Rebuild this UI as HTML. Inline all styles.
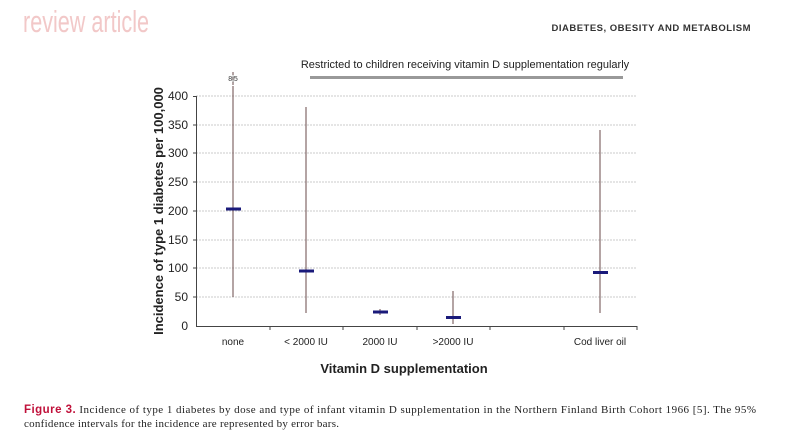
<!DOCTYPE html>
<html><head><meta charset="utf-8"><style>
body{margin:0;background:#fff;width:800px;height:434px;overflow:hidden}
svg{display:block}
</style></head><body>
<svg width="800" height="434" viewBox="0 0 800 434" xmlns="http://www.w3.org/2000/svg">
<text x="23" y="32" font-family="Liberation Sans Narrow, Liberation Sans, sans-serif" font-size="31" fill="#f2c8c8" textLength="126" lengthAdjust="spacingAndGlyphs">review article</text>
<text x="751" y="31" text-anchor="end" font-family="Liberation Sans, sans-serif" font-size="9.5" font-weight="bold" fill="#333" letter-spacing="0.5">DIABETES, OBESITY AND METABOLISM</text>

<text x="465" y="68" text-anchor="middle" font-family="Liberation Sans, sans-serif" font-size="11" fill="#222">Restricted to children receiving vitamin D supplementation regularly</text>
<line x1="310" y1="77.5" x2="623" y2="77.5" stroke="#999" stroke-width="3"/>

<g stroke="#bbb" stroke-width="0.8" stroke-dasharray="2,1">
<line x1="196" y1="96" x2="637" y2="96"/><line x1="196" y1="125" x2="637" y2="125"/><line x1="196" y1="153" x2="637" y2="153"/><line x1="196" y1="182" x2="637" y2="182"/><line x1="196" y1="211" x2="637" y2="211"/><line x1="196" y1="240" x2="637" y2="240"/><line x1="196" y1="268" x2="637" y2="268"/><line x1="196" y1="297" x2="637" y2="297"/>
</g>
<g stroke="#444" stroke-width="1">
<line x1="196.5" y1="96" x2="196.5" y2="326"/>
<line x1="196" y1="326.5" x2="637" y2="326.5"/>
<line x1="193" y1="96.5" x2="196" y2="96.5"/><line x1="193" y1="125" x2="196" y2="125"/><line x1="193" y1="153" x2="196" y2="153"/><line x1="193" y1="182" x2="196" y2="182"/><line x1="193" y1="211" x2="196" y2="211"/><line x1="193" y1="240" x2="196" y2="240"/><line x1="193" y1="268" x2="196" y2="268"/><line x1="193" y1="297" x2="196" y2="297"/>
<line x1="270" y1="326" x2="270" y2="330"/><line x1="343" y1="326" x2="343" y2="330"/><line x1="417" y1="326" x2="417" y2="330"/><line x1="490" y1="326" x2="490" y2="330"/><line x1="564" y1="326" x2="564" y2="330"/><line x1="637" y1="326" x2="637" y2="330"/>
</g>
<g font-family="Liberation Sans, sans-serif" font-size="12" fill="#222" text-anchor="end">
<text x="188" y="100">400</text><text x="188" y="129">350</text><text x="188" y="157">300</text><text x="188" y="186">250</text><text x="188" y="215">200</text><text x="188" y="244">150</text><text x="188" y="272">100</text><text x="188" y="301">50</text><text x="188" y="330">0</text>
</g>
<g font-family="Liberation Sans, sans-serif" font-size="10" fill="#222" text-anchor="middle">
<text x="233" y="345">none</text><text x="306" y="345">&lt; 2000 IU</text><text x="380" y="345">2000 IU</text><text x="453" y="345">&gt;2000 IU</text><text x="600" y="345">Cod liver oil</text>
</g>
<text x="404" y="373" text-anchor="middle" font-family="Liberation Sans, sans-serif" font-size="13" font-weight="bold" fill="#222">Vitamin D supplementation</text>
<text transform="translate(163,211) rotate(-90)" text-anchor="middle" font-family="Liberation Sans, sans-serif" font-size="13" font-weight="bold" fill="#222">Incidence of type 1 diabetes per 100,000</text>

<g stroke="#6a4a4a" stroke-width="1">
<line x1="233" y1="86" x2="233" y2="297"/>
<line x1="233" y1="72" x2="233" y2="86" stroke-dasharray="3,2"/>
<line x1="306" y1="107" x2="306" y2="313"/>
<line x1="380" y1="309" x2="380" y2="315"/>
<line x1="453" y1="291" x2="453" y2="324"/>
<line x1="600" y1="130" x2="600" y2="313"/>
</g>
<text x="233" y="81" text-anchor="middle" font-family="Liberation Sans, sans-serif" font-size="7" fill="#333">8|5</text>
<g fill="#1a1a7a">
<rect x="226" y="207.5" width="15" height="3"/>
<rect x="299" y="269.5" width="15" height="3"/>
<rect x="373" y="310.5" width="15" height="3"/>
<rect x="446" y="316" width="15" height="3"/>
<rect x="593" y="271" width="15" height="3"/>
</g>

<text x="24" y="413" font-family="Liberation Serif, serif" font-size="11" fill="#222" textLength="732" lengthAdjust="spacing"><tspan font-family="Liberation Sans, sans-serif" font-weight="bold" fill="#c0103a" font-size="11.5">Figure 3.</tspan> Incidence of type 1 diabetes by dose and type of infant vitamin D supplementation in the Northern Finland Birth Cohort 1966 [5]. The 95%</text>
<text x="24" y="427" font-family="Liberation Serif, serif" font-size="11" fill="#222" textLength="315" lengthAdjust="spacing">confidence intervals for the incidence are represented by error bars.</text>
</svg>
</body></html>
